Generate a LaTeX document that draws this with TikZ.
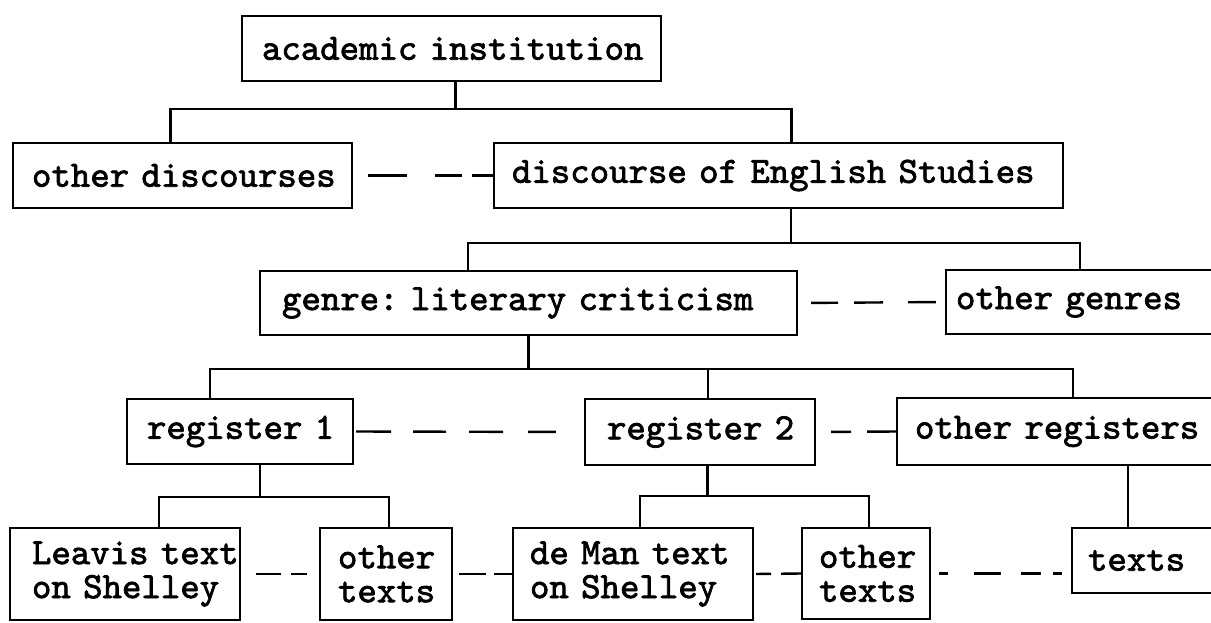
\documentclass[tikz,border=0pt]{standalone}
\usepackage{fontspec}
\newfontfamily\typer{lmmono10-regular.otf}[FakeBold=2]
\newcommand\typeset{\typer\fontsize{37pt}{34pt}\selectfont
  \fontdimen2\font=0.525em\fontdimen3\font=0pt\fontdimen4\font=0pt\frenchspacing
  \hyphenpenalty=10000\exhyphenpenalty=10000\hbadness=10000\hfuzz=100pt}
\usepackage{tikz}

\tikzset{
  box/.style={draw,line width=2.4pt,inner xsep=18pt,inner ysep=0pt,align=left,
    font=\typeset},
  link/.style={line width=2.2pt},
  gap/.style={line width=2.4pt}
}

\begin{document}
\begin{tikzpicture}[x=1pt,y=-1pt]
  \useasboundingbox (0,0) rectangle (1211,622);
  \clip (0,0) rectangle (1211,622);
  % levels of the tree
  \node[box,text width=379pt,inner xsep=20pt,minimum height=65pt] (acad) at (451.5,48.5) {academic~institution};
  \node[box,text width=301pt,inner xsep=19pt,minimum height=65pt] (od) at (182.5,175.5) {other~discourses};
  \node[box,text width=533pt,minimum height=65pt] (des) at (778.5,175.5) {discourse~of~English~Studies};
  \node[box,text width=493pt,inner xsep=22pt,minimum height=64pt] (genre) at (528.5,303) {genre:~literary~criticism};
  \node[box,text width=264pt,inner xsep=10pt,minimum height=64pt] (og) at (1088,302) {other~genres};
  \node[box,text width=186pt,inner xsep=20pt,minimum height=65pt] (reg1) at (240,431.5) {register~1};
  \node[box,text width=186pt,inner xsep=22pt,minimum height=66pt] (reg2) at (700,432) {register~2};
  \node[box,text width=297pt,minimum height=67pt] (oreg) at (1063.5,431.5) {other~registers};
  \node[box,text width=186pt,inner xsep=22pt,minimum height=92pt] (leavis) at (125,574) {Leavis~text\\on~Shelley};
  \node[box,text width=96pt,minimum height=92pt] (otx1) at (386,574) {other\\texts};
  \node[box,text width=206pt,inner xsep=17pt,minimum height=92pt] (deman) at (633,574) {de~Man~text\\on~Shelley};
  \node[box,text width=94pt,inner xsep=17pt,minimum height=91pt] (otx2) at (866,573.5) {other\\texts};
  \node[box,text width=126pt,inner xsep=16pt,minimum height=65pt] (texts) at (1151,560.5) {texts};

  % tree branches
  \foreach \kid/\dx in {od/-12,des/13} {
    \draw[link] ([xshift=4pt]acad.south) -- ++(0,27) -| ([xshift=\dx pt]\kid.north);
  }
  \foreach \kid/\dx in {genre/-60.5,og/-8} {
    \draw[link] ([xshift=12.5pt]des.south) -- ++(0,34) -| ([xshift=\dx pt]\kid.north);
  }
  \foreach \kid/\dx in {reg1/-30,reg2/8,oreg/9.5} {
    \draw[link] (genre.south) -- ++(0,33) -| ([xshift=\dx pt]\kid.north);
  }
  \foreach \kid/\dx in {leavis/34,otx1/3} {
    \draw[link] ([xshift=20pt]reg1.south) -- ++(0,32) -| ([xshift=\dx pt]\kid.north);
  }
  \foreach \kid/\dx in {deman/7,otx2/3} {
    \draw[link] ([xshift=7.5pt]reg2.south) -- ++(0,30) -| ([xshift=\dx pt]\kid.north);
  }
  \draw[link] ([xshift=64.5pt]oreg.south) -- ([xshift=-23pt]texts.north);

  % dashed links between siblings
  \draw[gap,shorten <=15pt,dash pattern=on 39pt off 28pt on 27pt off 10pt on 30pt] (od.east) -- (des.west);
  \draw[gap,shorten <=13pt,shorten >=9pt,dash pattern=on 27pt off 16pt on 29pt off 25pt on 30pt off 20pt] (genre.east) -- (og.west);
  \draw[gap,shorten <=2pt,shorten >=28pt,dash pattern=on 35pt off 22pt on 33pt off 23pt on 34pt off 25pt on 30pt off 30pt] (reg1.east) -- (reg2.west);
  \draw[gap,shorten <=15pt,dash pattern=on 20pt off 16pt on 40pt] (reg2.east) -- (oreg.west);
  \draw[gap,shorten <=15pt,shorten >=12pt,dash pattern=on 25pt off 10pt on 18pt off 30pt] (leavis.east) -- (otx1.west);
  \draw[gap,shorten <=6pt,dash pattern=on 27pt off 8pt on 30pt] (otx1.east) -- (deman.west);
  \draw[gap,shorten <=2pt,dash pattern=on 15pt off 10pt on 30pt] (deman.east) -- (otx2.west);
  \draw[gap,shorten <=8pt,shorten >=9pt,dash pattern=on 9pt off 26pt on 27pt off 20pt on 20pt off 12pt on 11pt off 20pt] (otx2.east) -- (texts.west |- otx2.east);
\end{tikzpicture}
\end{document}
